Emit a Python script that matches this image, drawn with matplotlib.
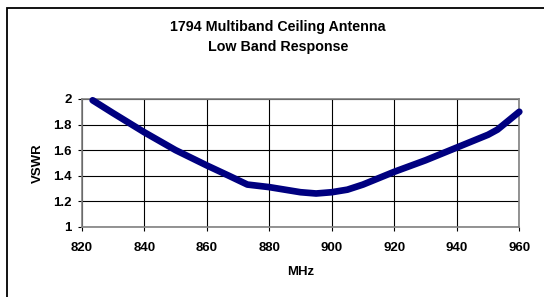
import matplotlib.pyplot as plt
from matplotlib.patches import Rectangle

# data
freq_mhz = [823.5, 830, 840, 850, 860, 867, 873, 880, 890, 895, 900, 905, 910,
            920, 930, 940, 950, 953, 957, 960]
vswr = [1.99, 1.89, 1.74, 1.60, 1.48, 1.40, 1.33, 1.31, 1.27, 1.26, 1.27, 1.29,
        1.33, 1.43, 1.52, 1.62, 1.72, 1.76, 1.84, 1.90]

x_ticks = [820, 840, 860, 880, 900, 920, 940, 960]
y_ticks = [1, 1.2, 1.4, 1.6, 1.8, 2]
y_tick_labels = ['1', '1.2', '1.4', '1.6', '1.8', '2']

plt.rcParams['font.family'] = ['Liberation Sans', 'DejaVu Sans']
plt.rcParams['font.weight'] = 'bold'

fig = plt.figure(figsize=(5.44, 2.97), dpi=100)
W, H = 544, 297
ax = fig.add_axes([81.7 / W, 1 - 226.7 / H, (519.3 - 81.7) / W, (226.7 - 99) / H])

# outer chart frame (cropped at right/bottom in the reference)
fig.patches.append(Rectangle((7 / W, -0.1), 1.2, 1 - 8 / H + 0.1,
                             transform=fig.transFigure, fill=False,
                             edgecolor='black', linewidth=1.3))

ax.plot(freq_mhz, vswr, color='#000080', linewidth=4.8, solid_capstyle='round',
        solid_joinstyle='round', clip_on=False, zorder=3)

ax.set_xlim(820, 960)
ax.set_ylim(1, 2)
ax.set_xticks(x_ticks)
ax.set_yticks(y_ticks)
ax.set_yticklabels(y_tick_labels)
ax.grid(True, color='black', linewidth=0.8)
ax.set_axisbelow(True)

for side in ['top', 'right', 'left', 'bottom']:
    ax.spines[side].set_color('#808080')
    ax.spines[side].set_linewidth(1.2)

ax.tick_params(axis='both', direction='out', length=3, width=0.8,
               color='black', labelsize=9.5)
ax.tick_params(axis='y', pad=4)
ax.tick_params(axis='x', pad=8)

ax.set_xlabel('MHz', fontsize=9.5, fontweight='bold', labelpad=9)
ax.set_ylabel('VSWR', fontsize=9.5, fontweight='bold', labelpad=7)

fig.text(278 / W, 1 - 27 / H, '1794 Multiband Ceiling Antenna', ha='center',
         va='center', fontsize=10.3, fontweight='bold')
fig.text(278 / W, 1 - 47 / H, 'Low Band Response', ha='center',
         va='center', fontsize=10.3, fontweight='bold')

fig.savefig('out.png', dpi=100)
